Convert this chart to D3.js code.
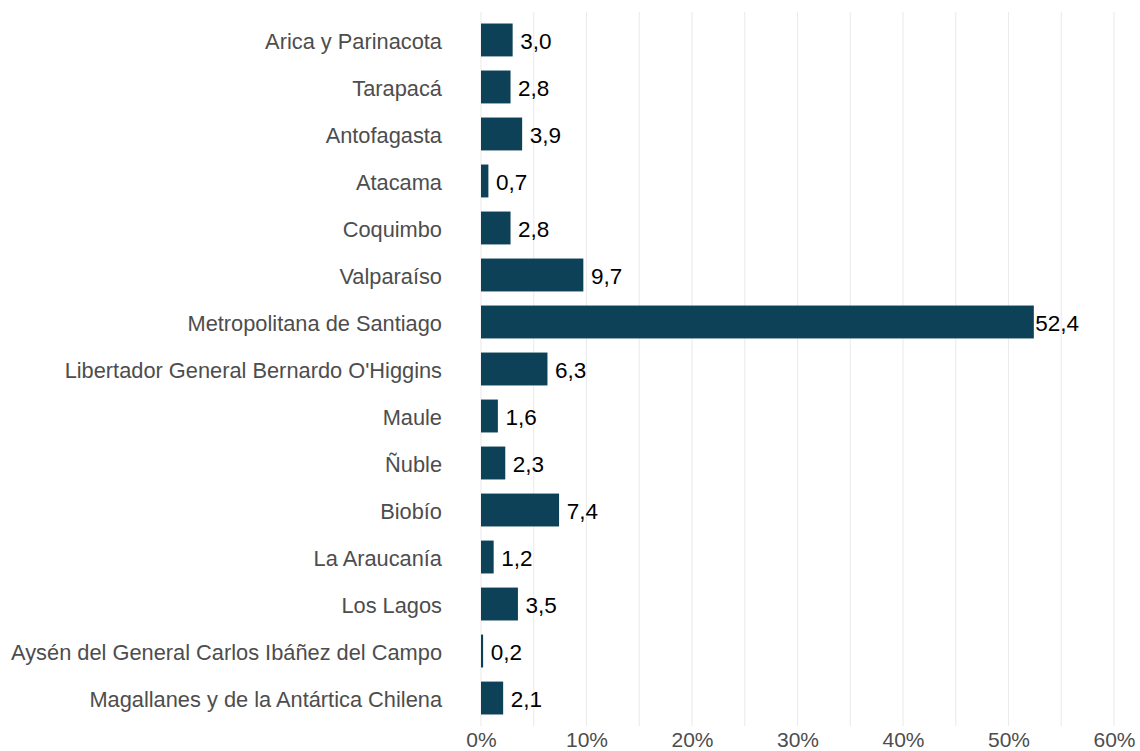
<!DOCTYPE html>
<html>
<head>
<meta charset="utf-8">
<script src="https://cdn.jsdelivr.net/npm/d3@7"></script>
<style>
  html, body { margin: 0; padding: 0; background: #ffffff; }
  svg { display: block; }
</style>
</head>
<body>
<svg id="chart" width="1140" height="751"></svg>
<script>
const regions = [
  "Arica y Parinacota",
  "Tarapacá",
  "Antofagasta",
  "Atacama",
  "Coquimbo",
  "Valparaíso",
  "Metropolitana de Santiago",
  "Libertador General Bernardo O'Higgins",
  "Maule",
  "Ñuble",
  "Biobío",
  "La Araucanía",
  "Los Lagos",
  "Aysén del General Carlos Ibáñez del Campo",
  "Magallanes y de la Antártica Chilena"
];
const shares = [3.0, 2.8, 3.9, 0.7, 2.8, 9.7, 52.4, 6.3, 1.6, 2.3, 7.4, 1.2, 3.5, 0.2, 2.1];
const xTicks = [0, 10, 20, 30, 40, 50, 60];
const xGrid = [0, 5, 10, 15, 20, 25, 30, 35, 40, 45, 50, 55, 60];

(function () {
const data = regions.map((r, i) => ({ region: r, value: shares[i] }));

const svg = d3.select("#chart");
const mLeft = 481, mRight = 1114, mTop = 12, mBottom = 726;
const font = "'Liberation Sans', Arial, Helvetica, sans-serif";

const x = d3.scaleLinear().domain([0, 60]).range([mLeft, mRight]);
const y = d3.scaleBand().domain(regions).range([mTop, mBottom]).paddingInner(0.3).paddingOuter(0.245);

// grid
svg.append("g").selectAll("line").data(xGrid).join("line")
  .attr("x1", d => x(d)).attr("x2", d => x(d))
  .attr("y1", mTop).attr("y2", mBottom)
  .attr("stroke", "#ebebeb").attr("stroke-width", 1.1);

// bars
svg.append("g").selectAll("rect").data(data).join("rect")
  .attr("x", x(0))
  .attr("y", d => y(d.region))
  .attr("width", d => x(d.value) - x(0))
  .attr("height", y.bandwidth())
  .attr("fill", "#0d4157");

// value labels
svg.append("g").selectAll("text").data(data).join("text")
  .attr("x", d => x(d.value + 2.2))
  .attr("y", d => y(d.region) + y.bandwidth() / 2)
  .attr("dy", "0.42em")
  .attr("text-anchor", "middle")
  .attr("font-family", font)
  .attr("font-size", "22.5px")
  .attr("fill", "#000000")
  .text(d => d.value.toFixed(1).replace(".", ","));

// y axis labels
const yAxis = d3.axisLeft(y).tickSize(0).tickPadding(39);
const yg = svg.append("g").attr("transform", `translate(${mLeft},0)`).call(yAxis);
yg.select(".domain").remove();
yg.selectAll("text").attr("font-family", font).attr("font-size", "21.8px").attr("fill", "#4d4d4d").attr("dy", "0.4em");

// x axis labels
const xAxis = d3.axisBottom(x).tickValues(xTicks).tickSize(0).tickPadding(6).tickFormat(d => d + "%");
const xg = svg.append("g").attr("transform", `translate(0,${mBottom})`).call(xAxis);
xg.select(".domain").remove();
xg.selectAll("text").attr("font-family", font).attr("font-size", "21px").attr("fill", "#4d4d4d");
})();
</script>
</body>
</html>
